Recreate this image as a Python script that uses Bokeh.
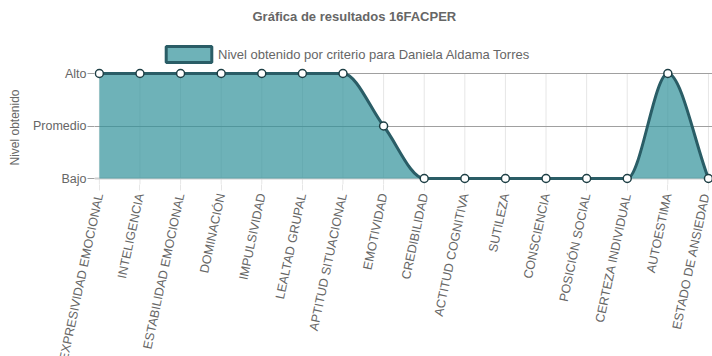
import numpy as np
from bokeh.plotting import figure
from bokeh.models import (Range1d, FixedTicker, Legend, LegendItem, ColumnDataSource, Span,
                          Title)
from bokeh.embed import file_html
from bokeh.resources import INLINE

categories = ["EXPRESIVIDAD EMOCIONAL", "INTELIGENCIA", "ESTABILIDAD EMOCIONAL",
              "DOMINACIÓN", "IMPULSIVIDAD", "LEALTAD GRUPAL", "APTITUD SITUACIONAL",
              "EMOTIVIDAD", "CREDIBILIDAD", "ACTITUD COGNITIVA", "SUTILEZA",
              "CONSCIENCIA", "POSICIÓN SOCIAL", "CERTEZA INDIVIDUAL", "AUTOESTIMA",
              "ESTADO DE ANSIEDAD"]
values = [3, 3, 3, 3, 3, 3, 3, 2, 1, 1, 1, 1, 1, 1, 3, 1]
level_values = [1, 2, 3]
level_labels = ["Bajo", "Promedio", "Alto"]
title_text = "Gráfica de resultados 16FACPER"
series_name = "Nivel obtenido por criterio para Daniela Aldama Torres"
y_title = "Nivel obtenido"

FONT = "Liberation Sans"
TXT = "#666666"
LINE = "#2a5d66"
FILL = "#30919a"

x = np.arange(len(categories), dtype=float)
y = np.array(values, dtype=float)
n = len(x)

# Chart.js style monotone cubic tangents
d = np.diff(y) / np.diff(x)
m = np.zeros(n)
for i in range(n):
    if i == 0:
        m[i] = d[0]
    elif i == n - 1:
        m[i] = d[-1]
    elif np.sign(d[i - 1]) != np.sign(d[i]):
        m[i] = 0.0
    else:
        m[i] = (d[i - 1] + d[i]) / 2
for i in range(n - 1):
    if abs(d[i]) < 1e-12:
        m[i] = m[i + 1] = 0.0
        continue
    a = m[i] / d[i]
    b = m[i + 1] / d[i]
    s = a * a + b * b
    if s <= 9:
        continue
    t = 3 / np.sqrt(s)
    m[i] = a * t * d[i]
    m[i + 1] = b * t * d[i]

dx = np.diff(x) / 3
bz = dict(x0=x[:-1], y0=y[:-1], x1=x[1:], y1=y[1:],
          cx0=x[:-1] + dx, cy0=y[:-1] + m[:-1] * dx,
          cx1=x[1:] - dx, cy1=y[1:] - m[1:] * dx)

ts = np.linspace(0, 1, 40)
cx_all, cy_all = [], []
for i in range(n - 1):
    P = [(bz["x0"][i], bz["y0"][i]), (bz["cx0"][i], bz["cy0"][i]),
         (bz["cx1"][i], bz["cy1"][i]), (bz["x1"][i], bz["y1"][i])]
    for t in (ts if i == 0 else ts[1:]):
        u = 1 - t
        c = [u**3, 3*u*u*t, 3*u*t*t, t**3]
        cx_all.append(sum(c[k] * P[k][0] for k in range(4)))
        cy_all.append(sum(c[k] * P[k][1] for k in range(4)))

PX = 52.5           # pixels per level unit
ymin = level_values[0] - 6 / PX
ymax = level_values[-1] + 43 / PX

p = figure(frame_width=618, frame_height=154, min_border_left=94, min_border_right=0,
           min_border_top=0, min_border_bottom=0,
           x_range=Range1d(-0.12, 15.1), y_range=Range1d(ymin, ymax),
           output_backend="svg", toolbar_location=None, title=title_text)
p.outline_line_color = None
p.background_fill_color = "white"
p.border_fill_color = "white"

p.title.align = "left"
p.title.offset = 158
p.title.vertical_align = "bottom"
p.title.text_font = FONT
p.title.text_font_size = "13px"
p.title.text_font_style = "bold"
p.title.text_color = TXT
p.title.standoff = 13

# grids
p.xgrid.visible = False
p.segment(x0=x, y0=[ymin] * n, x1=x, y1=[level_values[-1]] * n,
          line_color="#e6e6e6", line_width=1, level="underlay")
p.ygrid.ticker = FixedTicker(ticks=level_values[1:])
p.ygrid.grid_line_color = "#a0a0a0"
p.add_layout(Span(location=level_values[0], dimension="width", line_color="#d0d0d0",
                  line_width=2, level="underlay"))

# axes
xa = p.xaxis[0]
xa.ticker = FixedTicker(ticks=list(x))
xa.major_label_overrides = {int(i): c for i, c in zip(x, categories)}
xa.major_label_orientation = 1.36
xa.axis_line_color = None
xa.major_tick_in = 0
xa.major_tick_out = 6
xa.major_tick_line_color = "#e6e6e6"
xa.minor_tick_line_color = None
xa.major_label_standoff = 3
xa.major_label_text_font = FONT
xa.major_label_text_font_size = "12.5px"
xa.major_label_text_color = TXT

ya = p.yaxis[0]
ya.ticker = FixedTicker(ticks=level_values)
ya.major_label_overrides = {v: l for v, l in zip(level_values, level_labels)}
ya.axis_line_color = None
ya.major_tick_in = 0
ya.major_tick_out = 7
ya.major_tick_line_color = "#a0a0a0"
ya.minor_tick_line_color = None
ya.major_label_standoff = 1
ya.major_label_text_font = FONT
ya.major_label_text_font_size = "12.5px"
ya.major_label_text_color = TXT

# y-axis title as a side title so it can sit beside the value levels
ytitle = Title(text=y_title, align="left", offset=19, vertical_align="top", standoff=14,
               text_font=FONT, text_font_size="12px", text_font_style="normal",
               text_color=TXT)
p.add_layout(ytitle, "left")

# legend swatch proxy: zero-size quad hidden beneath the first point marker
proxy_src = ColumnDataSource(dict(left=x[:1], right=x[:1], top=y[:1], bottom=y[:1]))
proxy = p.quad(left="left", right="right", top="top", bottom="bottom", source=proxy_src,
               fill_color=FILL, fill_alpha=0.7, line_color=LINE, line_width=3,
               level="underlay")

# fill + line + points
p.varea(x=cx_all, y1=[level_values[0]] * len(cx_all), y2=cy_all,
        fill_color=FILL, fill_alpha=0.7)
p.bezier(source=ColumnDataSource(bz), x0="x0", y0="y0", x1="x1", y1="y1",
         cx0="cx0", cy0="cy0", cx1="cx1", cy1="cy1", line_color=LINE, line_width=3)
p.scatter(x=x, y=y, size=8, fill_color="white", line_color="#1e3f45", line_width=1.5)

legend = Legend(items=[LegendItem(label=series_name, renderers=[proxy])],
                location=(66, 120), orientation="horizontal")
legend.padding = 0
legend.margin = 0
legend.border_line_color = None
legend.background_fill_alpha = 0
legend.glyph_width = 57
legend.glyph_height = 20
legend.label_standoff = 1
legend.label_height = 20
legend.label_text_font = FONT
legend.label_text_font_size = "13px"
legend.label_text_color = TXT
p.add_layout(legend, "center")

open("out.html", "w").write(file_html(p, INLINE))
